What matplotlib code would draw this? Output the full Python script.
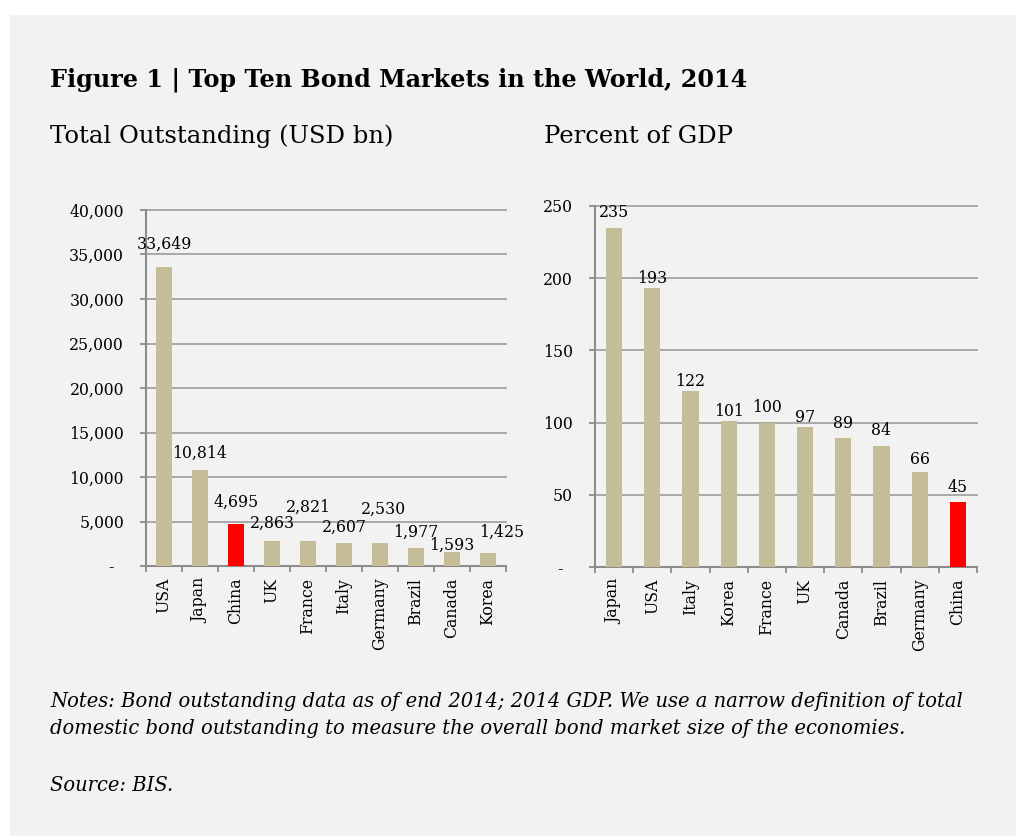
import matplotlib
matplotlib.use("Agg")
import matplotlib.pyplot as plt
import numpy as np

# ---- data ----
left_categories = ["USA", "Japan", "China", "UK", "France", "Italy", "Germany", "Brazil", "Canada", "Korea"]
left_values = [33649, 10814, 4695, 2863, 2821, 2607, 2530, 1977, 1593, 1425]
left_ticks = [0, 5000, 10000, 15000, 20000, 25000, 30000, 35000, 40000]

right_categories = ["Japan", "USA", "Italy", "Korea", "France", "UK", "Canada", "Brazil", "Germany", "China"]
right_values = [235, 193, 122, 101, 100, 97, 89, 84, 66, 45]
right_ticks = [0, 50, 100, 150, 200, 250]

highlight = "China"

title = "Figure 1 | Top Ten Bond Markets in the World, 2014"
sub_left = "Total Outstanding (USD bn)"
sub_right = "Percent of GDP"
notes = ["Notes: Bond outstanding data as of end 2014; 2014 GDP. We use a narrow definition of total",
         "domestic bond outstanding to measure the overall bond market size of the economies."]
source = "Source: BIS."

# ---- layout (label offsets in pixels, not data) ----
left_label_off = [(0, 22), (0, 16), (0, 22), (0, 17), (0, 34), (0, 15), (3, 34), (0, 16), (0, 6), (14, 21)]
right_label_off = [(0, 15), (0, 10), (0, 9), (0, 10), (0, 15), (0, 9), (0, 15), (0, 15), (0, 12), (0, 15)]

W, H = 1016, 836
BG = "#f2f2f2"
TAN = "#c4bd97"
RED = "#ff0000"
GRID = "#a3a3a3"
FONT = "DejaVu Serif"
plt.rcParams["font.family"] = FONT

fig = plt.figure(figsize=(W / 100, H / 100), dpi=100, facecolor="white")
# gray panel
fig.patches.append(matplotlib.patches.Rectangle((10 / W, 0), 1 - 10 / W, 1 - 15 / H,
                                                transform=fig.transFigure, facecolor=BG,
                                                edgecolor="none", zorder=-10))


def px_axes(x0, y0, x1, y1):
    return fig.add_axes([x0 / W, 1 - y1 / H, (x1 - x0) / W, (y1 - y0) / H])


def draw_panel(ax, cats, vals, ticks, fmt, offs):
    n = len(cats)
    x = np.arange(n)
    colors = [RED if c == highlight else TAN for c in cats]
    ax.bar(x, vals, width=0.42, color=colors, zorder=3)
    ax.set_facecolor("none")
    ax.set_xlim(-0.5, n - 0.5)
    ax.set_ylim(ticks[0], ticks[-1])
    ax.set_yticks(ticks)
    ax.set_yticklabels(["-  " if t == 0 else fmt(t) for t in ticks], fontsize=11.3)
    ax.yaxis.grid(True, color=GRID, lw=1.3, zorder=0)
    for gl in ax.get_ygridlines():
        gl.set_clip_on(False)
    ax.set_axisbelow(True)
    for s in ["top", "right"]:
        ax.spines[s].set_visible(False)
    for s in ["left", "bottom"]:
        ax.spines[s].set_color("#8c8c8c")
        ax.spines[s].set_linewidth(1.5)
    ax.tick_params(axis="y", length=4.3, width=1.3, color="#8c8c8c", pad=11.5)
    ax.set_xticks(x)
    ax.set_xticklabels(cats, rotation=90, fontsize=11.3)
    ax.set_xticks(np.arange(-0.5, n, 1.0), minor=True)
    ax.tick_params(axis="x", which="major", length=0, pad=8.5)
    ax.tick_params(axis="x", which="minor", length=4.3, width=1.3, color="#8c8c8c")
    for xi, v, (dx, dy) in zip(x, vals, offs):
        ax.annotate(fmt(v), xy=(xi, v), xytext=(dx, dy), textcoords="offset pixels",
                    ha="center", va="center", fontsize=11.3, zorder=5)


axL = px_axes(146, 210, 506, 566)
draw_panel(axL, left_categories, left_values, left_ticks, lambda v: f"{v:,}", left_label_off)
axR = px_axes(595, 206, 977, 567)
draw_panel(axR, right_categories, right_values, right_ticks, lambda v: f"{v:,}", right_label_off)

# texts
t_title = fig.text(50 / W, 1 - 87 / H, title, fontsize=18, fontweight="bold", va="baseline", ha="left")
t_sl = fig.text(50 / W, 1 - 143 / H, sub_left, fontsize=17, va="baseline", ha="left")
t_sr = fig.text(544 / W, 1 - 143 / H, sub_right, fontsize=17, va="baseline", ha="left")
t_n1 = fig.text(50 / W, 1 - 707 / H, notes[0], fontsize=13, style="italic", va="baseline", ha="left")
t_n2 = fig.text(50 / W, 1 - 734 / H, notes[1], fontsize=13, style="italic", va="baseline", ha="left")
t_src = fig.text(50 / W, 1 - 791 / H, source, fontsize=13, style="italic", va="baseline", ha="left")

fig.canvas.draw()
r = fig.canvas.get_renderer()


def fit(t, target):
    w = t.get_window_extent(r).width
    t.set_fontsize(t.get_fontsize() * target / w)
    return t.get_fontsize()


fit(t_title, 695)
fs_sub = fit(t_sl, 342)
t_sr.set_fontsize(fs_sub)
fs_n = fit(t_n1, 913)
t_n2.set_fontsize(fs_n)
t_src.set_fontsize(fs_n)

fig.savefig("out.png", dpi=100, facecolor="white")
